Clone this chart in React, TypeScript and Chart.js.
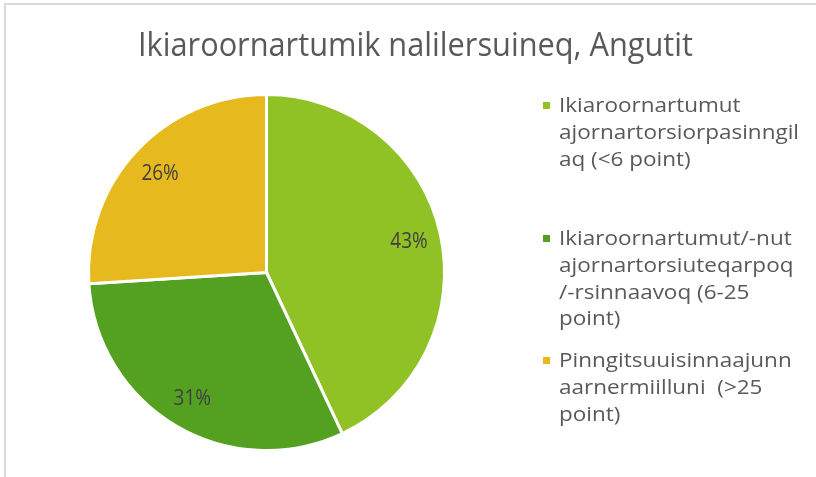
import React, { useEffect, useRef } from "react";
import { Chart, registerables } from "chart.js";

Chart.register(...registerables);

const TITLE = "Ikiaroornartumik nalilersuineq, Angutit";
const categories: string[][] = [
  ["Ikiaroornartumut", "ajornartorsiorpasinngil", "aq (<6 point)"],
  ["Ikiaroornartumut/-nut", "ajornartorsiuteqarpoq", "/-rsinnaavoq (6-25", "point)"],
  ["Pinngitsuuisinnaajunn", "aarnermiilluni  (>25", "point)"],
];
const values = [43, 31, 26];
const colors = ["#90C226", "#54A021", "#E6B91E"];

const FONT = '"Open Sans", "DejaVu Sans", sans-serif';

function drawScaled(
  ctx: CanvasRenderingContext2D,
  text: string,
  x: number,
  y: number,
  font: string,
  sx: number,
  align: CanvasTextAlign,
  baseline: CanvasTextBaseline,
  color: string
) {
  ctx.save();
  ctx.font = font;
  ctx.fillStyle = color;
  ctx.translate(x, y);
  ctx.scale(sx, 1);
  ctx.textAlign = align;
  ctx.textBaseline = baseline;
  ctx.fillText(text, 0, 0);
  ctx.restore();
}

const decorPlugin = {
  id: "decor",
  beforeDraw(chart: any) {
    const ctx = chart.ctx as CanvasRenderingContext2D;
    ctx.save();
    ctx.fillStyle = "#FFFFFF";
    ctx.fillRect(0, 0, chart.width, chart.height);
    ctx.fillStyle = "#D9D9D9";
    ctx.fillRect(4, 3, chart.width - 4, 2);
    ctx.fillRect(4, 3, 2, chart.height - 3);
    ctx.restore();
  },
  afterDraw(chart: any) {
    const ctx = chart.ctx as CanvasRenderingContext2D;

    // Title
    const titleFont = `33px ${FONT}`;
    ctx.save();
    ctx.font = titleFont;
    const tw = ctx.measureText(TITLE).width;
    ctx.restore();
    drawScaled(ctx, TITLE, 415.5, 56, titleFont, 555 / tw, "center", "alphabetic", "#595959");

    // Percent labels
    const meta = chart.getDatasetMeta(0);
    const data = chart.data.datasets[0].data as number[];
    const total = data.reduce((a, b) => a + b, 0);
    meta.data.forEach((arc: any, i: number) => {
      const { x, y, startAngle, endAngle, outerRadius } = arc.getProps(
        ["x", "y", "startAngle", "endAngle", "outerRadius"],
        true
      );
      const mid = (startAngle + endAngle) / 2;
      const r = outerRadius * 0.82;
      const pct = Math.round((data[i] / total) * 100) + "%";
      drawScaled(
        ctx,
        pct,
        x + Math.cos(mid) * r,
        y + Math.sin(mid) * r + 1,
        `21px ${FONT}`,
        0.9,
        "center",
        "middle",
        "#404040"
      );
    });

    // Legend
    const labels = chart.data.labels as string[][];
    const bg = chart.data.datasets[0].backgroundColor as string[];
    const legFont = `20px ${FONT}`;
    ctx.save();
    ctx.font = legFont;
    const refW = ctx.measureText(labels[0][1]).width;
    ctx.restore();
    const lsx = 240 / refW;
    const starts = [112, 245, 367];
    const lh = 26.8;
    labels.forEach((lines, i) => {
      const by = starts[i];
      ctx.save();
      ctx.fillStyle = bg[i];
      ctx.fillRect(543, by - 10, 7, 7);
      ctx.restore();
      lines.forEach((s, j) => {
        drawScaled(ctx, s, 559, by + j * lh, legFont, lsx, "left", "alphabetic", "#595959");
      });
    });
  },
};

export default function App() {
  const ref = useRef<HTMLCanvasElement>(null);
  useEffect(() => {
    document.body.style.margin = "0";
    const chart = new Chart(ref.current!, {
      type: "pie",
      data: {
        labels: categories,
        datasets: [
          {
            data: values,
            backgroundColor: colors,
            borderColor: "#FFFFFF",
            borderWidth: 3,
          },
        ],
      },
      options: {
        responsive: false,
        animation: false,
        layout: { padding: { left: 87, right: 370, top: 93, bottom: 25 } },
        plugins: {
          legend: { display: false },
          title: { display: false },
          tooltip: { enabled: false },
        },
      },
      plugins: [decorPlugin],
    });
    return () => chart.destroy();
  }, []);
  return (
    <div style={{ position: "fixed", left: 0, top: 0, width: 816, height: 477 }}>
      <canvas ref={ref} width={816} height={477} />
    </div>
  );
}
